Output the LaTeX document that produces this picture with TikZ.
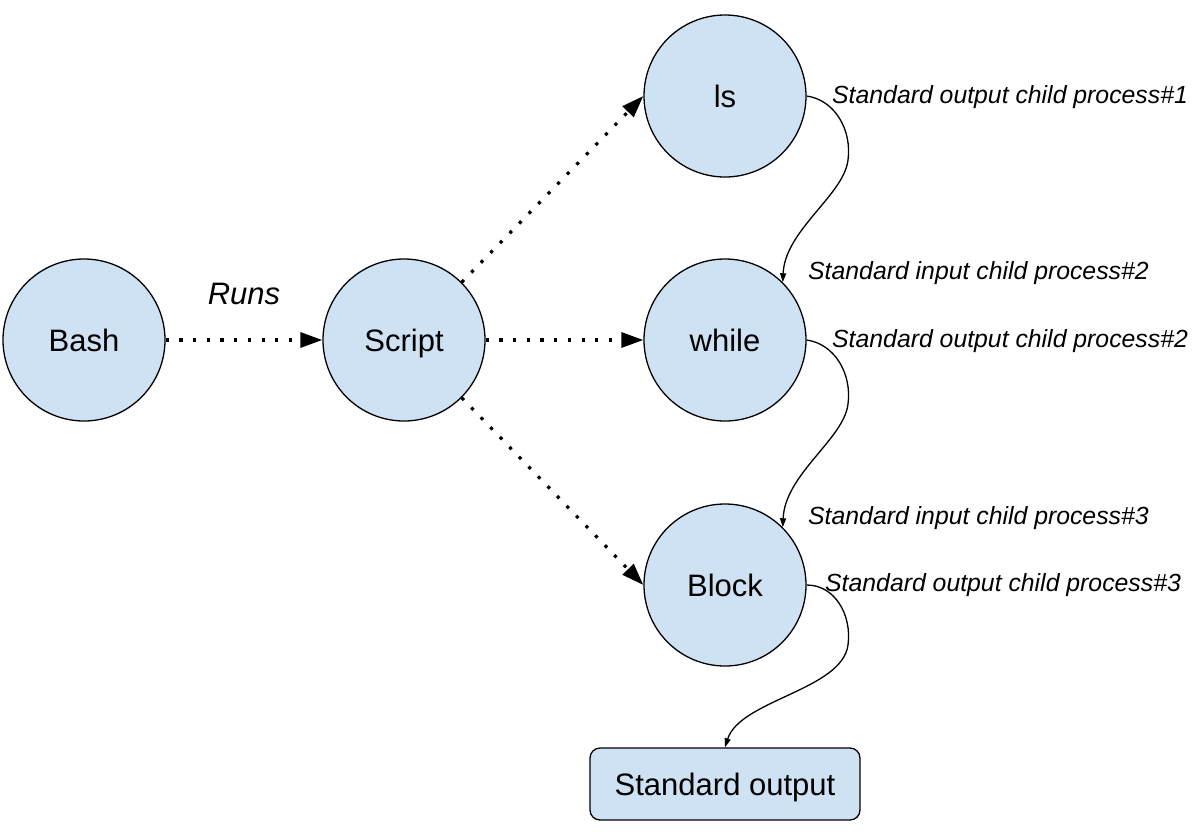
\documentclass[tikz,border=0pt]{standalone}
\usepackage{fontspec}
\setmainfont{Liberation Sans}
\usetikzlibrary{arrows.meta}
\definecolor{nodeblue}{HTML}{CFE2F3}
\begin{document}
\begin{tikzpicture}[x=1pt,y=-1pt,
  proc/.style={circle,draw=black,line width=1.3pt,fill=nodeblue,minimum size=162pt,inner sep=0pt,text height=22.2pt,text depth=0pt,font=\fontsize{31}{36}\selectfont},
  outbox/.style={rectangle,rounded corners=10pt,draw=black,line width=1.3pt,fill=nodeblue,minimum width=270pt,minimum height=72pt,inner sep=0pt,text height=22.2pt,text depth=0pt,font=\fontsize{31}{36}\selectfont},
  runarrow/.style={line width=3.2pt,dash pattern=on 3.2pt off 10.5pt,-{Triangle[length=22pt,width=15pt]}},
  pipe/.style={line width=1.3pt,-{Triangle[length=9pt,width=6pt]}},
  lbl/.style={anchor=base west,inner sep=0pt,font=\fontsize{24.8}{28}\selectfont\itshape}
]
\useasboundingbox (0,0) rectangle (1203,831);
\node[proc] (bash) at (84,340) {Bash};
\node[proc] (script) at (404,340) {Script};
\node[proc] (ls) at (725,96) {ls};
\node[proc] (while) at (725,340) {while};
\node[proc] (block) at (725,585) {Block};
\node[outbox] (stdout) at (725,784) {Standard output};

\node[inner sep=0pt,anchor=base,font=\fontsize{31}{36}\selectfont\itshape] (runs) at (244,304) {Runs};

\draw[runarrow] (bash.east) -- (script.west);
\draw[runarrow] (script.45) -- (ls.west);
\draw[runarrow] (script.east) -- (while.west);
\draw[runarrow] (script.-45) -- (block.west);

\draw[pipe] (ls.east) .. controls (835,100) and (852,130) .. (848,160) .. controls (844,195) and (785,230) .. (while.45);
\draw[pipe] (while.east) .. controls (835,344) and (852,374) .. (848,404) .. controls (844,439) and (785,474) .. (block.45);
\draw[pipe] (block.east) .. controls (835,585) and (852,615) .. (848,645) .. controls (842,690) and (740,700) .. (stdout.north);

\node[lbl] (l1) at (832,103) {Standard output child process\#1};
\node[lbl] (l2) at (808,279) {Standard input child process\#2};
\node[lbl] (l3) at (832,347) {Standard output child process\#2};
\node[lbl] (l4) at (808,524) {Standard input child process\#3};
\node[lbl] (l5) at (825,591) {Standard output child process\#3};
\end{tikzpicture}
\end{document}
